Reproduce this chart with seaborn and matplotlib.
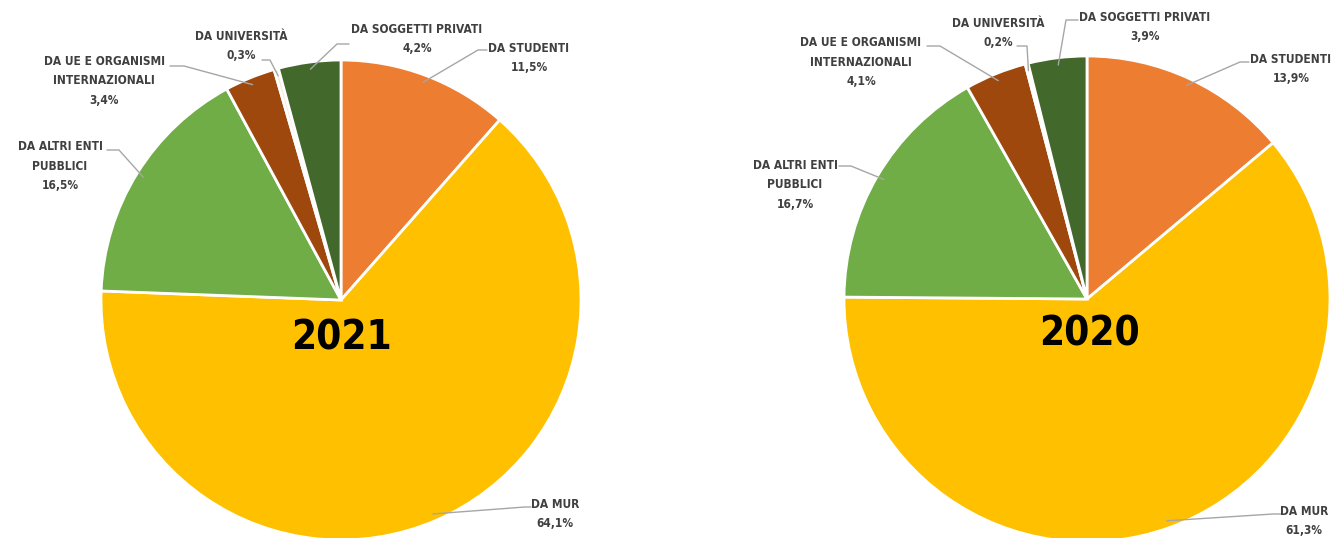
import numpy as np
import matplotlib
matplotlib.use("Agg")
import matplotlib.pyplot as plt
import seaborn as sns

categories = ["DA STUDENTI", "DA MUR", "DA ALTRI ENTI\nPUBBLICI",
              "DA UE E ORGANISMI\nINTERNAZIONALI", "DA UNIVERSITÀ",
              "DA SOGGETTI PRIVATI"]
values_2021 = [11.5, 64.1, 16.5, 3.4, 0.3, 4.2]
values_2020 = [13.9, 61.3, 16.7, 4.1, 0.2, 3.9]
years = ["2021", "2020"]
colors = ["#ED7D31", "#FFC000", "#70AD47", "#9E480E", "#F3EED9", "#43682B"]

sns.set_theme(style="white")
plt.rcParams['font.family'] = ['DejaVu Sans']
plt.rcParams['font.stretch'] = 'condensed'

W, H = 1336, 538
fig = plt.figure(figsize=(W / 100, H / 100), dpi=100)
ax = fig.add_axes([0, 0, 1, 1])

def fy(y):
    return H - y

layouts = [
    dict(center=(341, 300), r=240, year=(342, 338),
         labels=[((529, 58), (478, 50), (487, 50)),
                 ((555, 514), (525, 507), (531, 507)),
                 ((60, 166), (119, 150), (107, 150)),
                 ((104, 81), (184, 66), (170, 66)),
                 ((241, 46), (270, 60), (262, 60)),
                 ((417, 39), (337, 44), (349, 44))]),
    dict(center=(1087, 299), r=243, year=(1089, 334),
         labels=[((1291, 69), (1240, 62), (1249, 62)),
                 ((1304, 521), (1273, 514), (1281, 514)),
                 ((795, 185), (851, 166), (839, 166)),
                 ((861, 62), (940, 46), (927, 46)),
                 ((998, 33), (1027, 46), (1017, 46)),
                 ((1145, 27), (1066, 20), (1078, 20))]),
]

for vals, year, lay in zip([values_2021, values_2020], years, layouts):
    cx, cy = lay["center"]
    r = lay["r"]
    wedges, _ = ax.pie(vals, colors=colors, startangle=90, counterclock=False,
                       center=(cx, fy(cy)), radius=r,
                       wedgeprops=dict(edgecolor="white", linewidth=2),
                       normalize=True, frame=True)
    for w, cat, v, (tpos, elbow, end) in zip(wedges, categories, vals, lay["labels"]):
        ang = np.deg2rad((w.theta1 + w.theta2) / 2)
        px = cx + 0.97 * r * np.cos(ang)
        py = fy(cy) + 0.97 * r * np.sin(ang)
        ax.plot([px, elbow[0], end[0]], [py, fy(elbow[1]), fy(end[1])],
                color="#A6A6A6", lw=1.0, zorder=3)
        txt = f"{cat}\n{v:.1f}%".replace(".", ",")
        ax.text(tpos[0], fy(tpos[1]), txt, ha="center", va="center",
                fontsize=8.6, fontweight="bold", color="#404040",
                fontstretch="condensed", linespacing=1.62, zorder=4)
    ax.text(lay["year"][0], fy(lay["year"][1]), year, ha="center", va="center",
            fontsize=29, fontweight="bold", color="black", zorder=5,
            fontstretch="condensed")

ax.set_xlim(0, W)
ax.set_ylim(0, H)
ax.set_aspect("equal")
ax.axis("off")

fig.savefig("out.png", dpi=100)
